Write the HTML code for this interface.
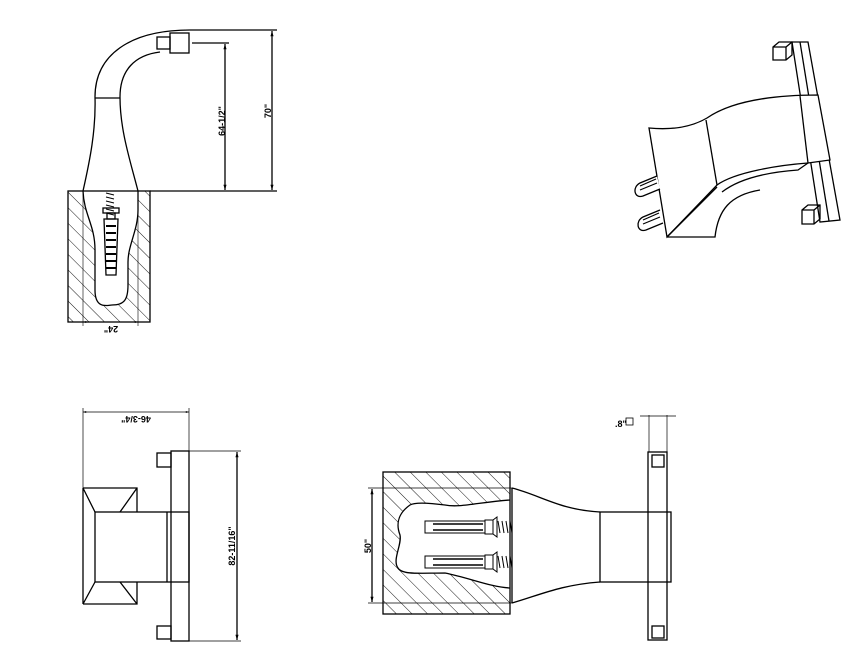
<!DOCTYPE html>
<html><head><meta charset="utf-8"><style>
html,body{margin:0;padding:0;background:#fff;width:863px;height:661px;overflow:hidden}
svg{display:block}
text{font-family:"Liberation Sans",sans-serif;font-weight:bold;font-size:9px;fill:#000}
</style></head><body>
<svg width="863" height="661" viewBox="0 0 863 661" xmlns="http://www.w3.org/2000/svg">
<defs>
<pattern id="h" patternUnits="userSpaceOnUse" width="11" height="11" patternTransform="rotate(-45)">
<line x1="0" y1="0" x2="0" y2="11" stroke="#000" stroke-width="0.9"/>
</pattern>
<marker id="a" viewBox="0 0 10 10" refX="10" refY="5" markerWidth="6" markerHeight="4" orient="auto-start-reverse"><path d="M0,2 L10,5 L0,8z" fill="#000"/></marker>
</defs>
<g fill="none" stroke="#000" stroke-width="1.3">

<!-- ===== Top-left view ===== -->
<path d="M68,191 H150 V322 H68 Z M83,191 C84,215 95,225 95,250 L95,290 C95,310 108,305 112,305 C124,305 128,300 128,285 L128,262 C128,245 138,230 138,210 L138,191 Z" fill="url(#h)" fill-rule="evenodd" stroke="none"/>
<rect x="68" y="191" width="82" height="131"/>
<path d="M83,191 C84,215 95,225 95,250 L95,290 C95,310 108,305 112,305 C124,305 128,300 128,285 L128,262 C128,245 138,230 138,210 L138,191"/>
<path d="M83,191 C90,160 96,130 95,97 C95,55 130,30 190,30"/>
<path d="M138,191 C130,160 120,130 120,97 C120,70 135,55 160,52"/>
<line x1="95" y1="98" x2="120" y2="98"/>
<rect x="170" y="33" width="19" height="20"/>
<rect x="157" y="37" width="13" height="12"/>
<!-- screw -->
<path d="M106,193 l8,2 m-8,2 l8,2 m-8,2 l8,2 m-8,2 l8,2 m-8,2 l8,2 m-8,2 l8,2" stroke-width="1"/>
<rect x="103" y="208" width="16" height="5"/>
<rect x="107" y="213" width="8" height="6"/>
<path d="M104,219 L118,219 L116,275 L106,275 Z"/>
<path d="M106,226 h10 m-10,7 h10 m-10,7 h10 m-10,7 h10 m-10,7 h10 m-10,7 h10 m-10,7 h10" stroke-width="2"/>
<!-- dims -->
<line x1="150" y1="191" x2="277" y2="191"/>
<line x1="190" y1="30" x2="277" y2="30"/>
<line x1="192" y1="43" x2="229" y2="43"/>
<line x1="272" y1="31" x2="272" y2="190" marker-start="url(#a)" marker-end="url(#a)"/>
<line x1="225" y1="44" x2="225" y2="190" marker-start="url(#a)" marker-end="url(#a)"/>
<line x1="83" y1="322" x2="138" y2="322" stroke-width="0.8" marker-start="url(#a)" marker-end="url(#a)"/>
<line x1="83" y1="191" x2="83" y2="326" stroke-width="0.6"/>
<line x1="138" y1="191" x2="138" y2="326" stroke-width="0.6"/>

<!-- ===== Top-right isometric ===== -->
<path d="M792,42 L808,42 L840,220 L820,222 Z" fill="#fff"/>
<line x1="800" y1="42" x2="829" y2="221"/>
<path d="M773,47 L779,42 L792,42 L792,55 L786,60 L773,60 Z M773,47 L786,47 L786,60 M786,47 L792,42"/>
<path d="M802,210 L808,205 L820,205 L820,219 L814,224 L802,224 Z M802,210 L814,210 L814,224 M814,210 L820,205"/>
<path d="M649,128 C670,130 690,128 707,118 C730,102 770,95 818,95 L830,160 L808,163 C780,165 735,172 717,185 L667,237 Z" fill="#fff"/>
<line x1="706" y1="120" x2="717" y2="185"/>
<line x1="800" y1="96" x2="808" y2="163"/>
<path d="M808,163 L798,170 C770,172 740,178 722,192"/>
<path d="M667,237 L715,237 C718,210 730,195 760,190"/>
<path d="M667,237 L717,187"/>
<path d="M657,176 L640,183 C632,187 634,199 643,196 L660,189" fill="#fff"/>
<path d="M660,210 L643,217 C635,221 637,233 646,230 L663,223" fill="#fff"/>
<path d="M640,186 l16,-7 M640,190 l17,-7 M643,220 l16,-7 M643,224 l17,-7" stroke-width="1.2"/>

<!-- ===== Bottom-left view ===== -->
<line x1="83" y1="412" x2="189" y2="412" stroke-width="0.8" marker-start="url(#a)" marker-end="url(#a)"/>
<line x1="83" y1="408" x2="83" y2="604" stroke-width="0.7"/>
<line x1="189" y1="408" x2="189" y2="451" stroke-width="0.7"/>
<rect x="171" y="451" width="18" height="190"/>
<rect x="157" y="453" width="14" height="14"/>
<rect x="157" y="626" width="14" height="13"/>
<rect x="95" y="512" width="94" height="70"/>
<line x1="167" y1="512" x2="167" y2="582"/>
<path d="M83,488 L137,488 L137,512 M83,488 L95,512 M137,488 L120,512 M83,604 L137,604 L137,582 M83,604 L95,582 M137,604 L120,582 M83,488 V604"/>
<line x1="189" y1="451" x2="241" y2="451" stroke-width="0.7"/>
<line x1="189" y1="641" x2="241" y2="641" stroke-width="0.7"/>
<line x1="237" y1="452" x2="237" y2="640" marker-start="url(#a)" marker-end="url(#a)"/>

<!-- ===== Bottom-right view ===== -->
<path d="M383,472 H510 V614 H383 Z M510,500 C480,502 460,508 445,505 C430,503 415,502 410,505 C400,512 395,522 400,535 C402,545 392,560 398,568 C402,575 420,573 445,573 C470,578 490,587 510,588 Z" fill="url(#h)" fill-rule="evenodd" stroke="none"/>
<rect x="383" y="472" width="127" height="142"/>
<path d="M510,500 C480,502 460,508 445,505 C430,503 415,502 410,505 C400,512 395,522 400,535 C402,545 392,560 398,568 C402,575 420,573 445,573 C470,578 490,587 510,588"/>
<path d="M512,488 C540,495 560,510 600,512 M512,603 C540,595 560,585 600,582 M512,488 V603"/>
<rect x="600" y="512" width="71" height="70"/>
<rect x="648" y="452" width="19" height="188"/>
<rect x="652" y="455" width="12" height="12"/>
<rect x="652" y="626" width="12" height="12"/>
<line x1="649" y1="415" x2="649" y2="452" stroke-width="0.7"/>
<line x1="667" y1="415" x2="667" y2="452" stroke-width="0.7"/>
<line x1="640" y1="416" x2="676" y2="416" stroke-width="0.8"/>
<rect x="626" y="418" width="7" height="7" stroke-width="0.8"/>
<g stroke-width="1">
<rect x="425" y="521" width="60" height="12"/>
<rect x="485" y="520" width="8" height="14"/>
<path d="M493,520 l4,-3 v20 l-4,-3"/>
<path d="M498,521 l2,12 m2,-12 l2,12 m2,-12 l2,12 m2,-12 l2,12"/>
<path d="M433,524 h50 M433,530 h50" stroke-width="1.5"/>
<rect x="425" y="556" width="60" height="12"/>
<rect x="485" y="555" width="8" height="14"/>
<path d="M493,555 l4,-3 v20 l-4,-3"/>
<path d="M498,556 l2,12 m2,-12 l2,12 m2,-12 l2,12 m2,-12 l2,12"/>
<path d="M433,559 h50 M433,565 h50" stroke-width="1.5"/>
</g>
<line x1="368" y1="488" x2="512" y2="488" stroke-width="0.7"/>
<line x1="368" y1="603" x2="512" y2="603" stroke-width="0.7"/>
<line x1="372" y1="489" x2="372" y2="602" marker-start="url(#a)" marker-end="url(#a)"/>
</g>

<!-- labels -->
<text transform="translate(225,121) rotate(-90)" text-anchor="middle">64-1/2"</text>
<text transform="translate(271,111) rotate(-90)" text-anchor="middle">70"</text>
<text transform="translate(111,326) rotate(180)" text-anchor="middle">24"</text>
<text transform="translate(136,416) rotate(180)" text-anchor="middle">46-3/4"</text>
<text transform="translate(235,546) rotate(-90)" text-anchor="middle">82-11/16"</text>
<text transform="translate(371,546) rotate(-90)" text-anchor="middle">50"</text>
<text x="615" y="427">.8"</text>
</svg>
</body></html>
